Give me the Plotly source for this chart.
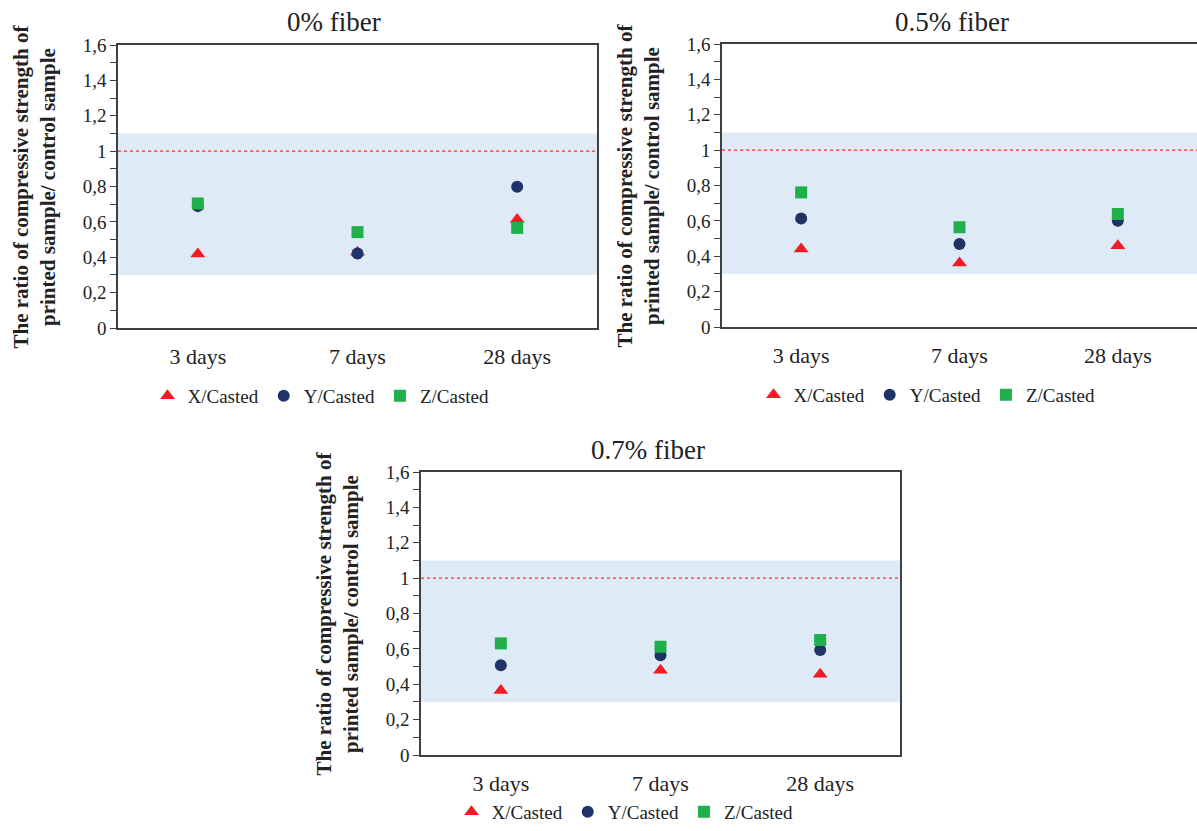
import plotly.graph_objects as go

categories = ["3 days", "7 days", "28 days"]
series_names = ["X/Casted", "Y/Casted", "Z/Casted"]

# 0% fiber
x_cast_0 = [0.419, 0.428, 0.613]
y_cast_0 = [0.689, 0.421, 0.798]
z_cast_0 = [0.704, 0.542, 0.566]
# 0.5% fiber
x_cast_05 = [0.441, 0.362, 0.460]
y_cast_05 = [0.614, 0.469, 0.601]
z_cast_05 = [0.761, 0.564, 0.639]
# 0.7% fiber
x_cast_07 = [0.364, 0.479, 0.456]
y_cast_07 = [0.508, 0.564, 0.593]
z_cast_07 = [0.631, 0.612, 0.650]

panel_titles = ["0% fiber", "0.5% fiber", "0.7% fiber"]
ytick_vals = [0, 0.2, 0.4, 0.6, 0.8, 1.0, 1.2, 1.4, 1.6]
ytick_text = ["0", "0,2", "0,4", "0,6", "0,8", "1", "1,2", "1,4", "1,6"]
band_low, band_high = 0.3, 1.1
reference_line = 1.0

W, H = 1197, 831
FONT = "Liberation Serif, Times New Roman, serif"
colors = ["#ee1c25", "#1f3366", "#1fb04c"]
symbols = ["triangle-up", "circle", "square"]
sizes = [13, 12, 12]

# panel geometry in pixels: (left, right, top, bottom)
panels = [
    (118, 597, 45, 328),
    (722, 1197, 44, 327),
    (421, 900, 472, 755),
]
title_pos = [(334, 22), (952, 22), (648, 450)]
# legend: (center x, y, yanchor)
legend_pos = [(321, 396, "middle"), (927, 395, "middle"), (625, 831, "bottom")]

data = [
    [x_cast_0, y_cast_0, z_cast_0],
    [x_cast_05, y_cast_05, z_cast_05],
    [x_cast_07, y_cast_07, z_cast_07],
]

fig = go.Figure()
annotations = []
shapes = []
legend_names = ["legend", "legend2", "legend3"]

for i, (l, r, t, b) in enumerate(panels):
    xa = "xaxis" if i == 0 else f"xaxis{i+1}"
    ya = "yaxis" if i == 0 else f"yaxis{i+1}"
    xr = "x" if i == 0 else f"x{i+1}"
    yr = "y" if i == 0 else f"y{i+1}"
    for s in range(3):
        fig.add_trace(go.Scatter(
            x=categories, y=data[i][s], mode="markers", name=series_names[s],
            marker=dict(symbol=symbols[s], size=sizes[s], color=colors[s]),
            xaxis=xr, yaxis=yr, legend=legend_names[i], cliponaxis=False,
        ))
    fig.update_layout({
        xa: dict(domain=[l / W, r / W], anchor=yr, type="category",
                 range=[-0.5, 2.5], showline=True, linecolor="#404040",
                 linewidth=1.5, mirror=True, ticks="", showgrid=False,
                 zeroline=False, ticklabelstandoff=8, automargin=False,
                 tickfont=dict(family=FONT, size=22, color="#222")),
        ya: dict(domain=[1 - b / H, 1 - t / H], anchor=xr, range=[0, 1.6],
                 showline=True, linecolor="#404040", linewidth=1.5, mirror=True,
                 ticks="outside", ticklen=6, tickcolor="#404040", tickwidth=1.2,
                 tickvals=ytick_vals, ticktext=ytick_text, showgrid=False,
                 zeroline=False, automargin=False,
                 minor=dict(dtick=0.1, ticks="outside", ticklen=6,
                            tickcolor="#404040", tickwidth=1.2, showgrid=False),
                 tickfont=dict(family=FONT, size=19, color="#222")),
    })
    shapes.append(dict(type="rect", xref=f"{xr} domain", yref=yr, x0=0, x1=1,
                       y0=band_low, y1=band_high, fillcolor="#deebf6",
                       line=dict(width=0), layer="below"))
    shapes.append(dict(type="line", xref=f"{xr} domain", yref=yr, x0=0, x1=1,
                       y0=reference_line, y1=reference_line,
                       line=dict(color="#ff2a2a", width=1.3, dash="dot"),
                       layer="below"))
    annotations.append(dict(
        text="<b>The ratio of compressive strength of</b><br><b>printed sample/ control sample</b>",
        xref="paper", yref="paper", x=(l - 84) / W, y=1 - ((t + b) / 2) / H,
        xanchor="center", yanchor="middle", textangle=-90, showarrow=False,
        font=dict(family=FONT, size=21, color="#222"),
    ))
    tx, ty = title_pos[i]
    annotations.append(dict(
        text=panel_titles[i], xref="paper", yref="paper", x=tx / W, y=1 - ty / H,
        xanchor="center", yanchor="middle", showarrow=False,
        font=dict(family=FONT, size=27, color="#222"),
    ))
    lx, ly, lanchor = legend_pos[i]
    fig.update_layout({legend_names[i]: dict(
        orientation="h", x=lx / W, y=1 - ly / H, xanchor="center",
        yanchor=lanchor, font=dict(family=FONT, size=19, color="#222"),
        bgcolor="rgba(0,0,0,0)", itemwidth=30, tracegroupgap=0,
    )})

fig.update_layout(
    width=W, height=H, margin=dict(l=0, r=0, t=0, b=0, autoexpand=False),
    paper_bgcolor="white", plot_bgcolor="white",
    shapes=shapes, annotations=annotations, showlegend=True,
)

fig.write_html("out.html")
